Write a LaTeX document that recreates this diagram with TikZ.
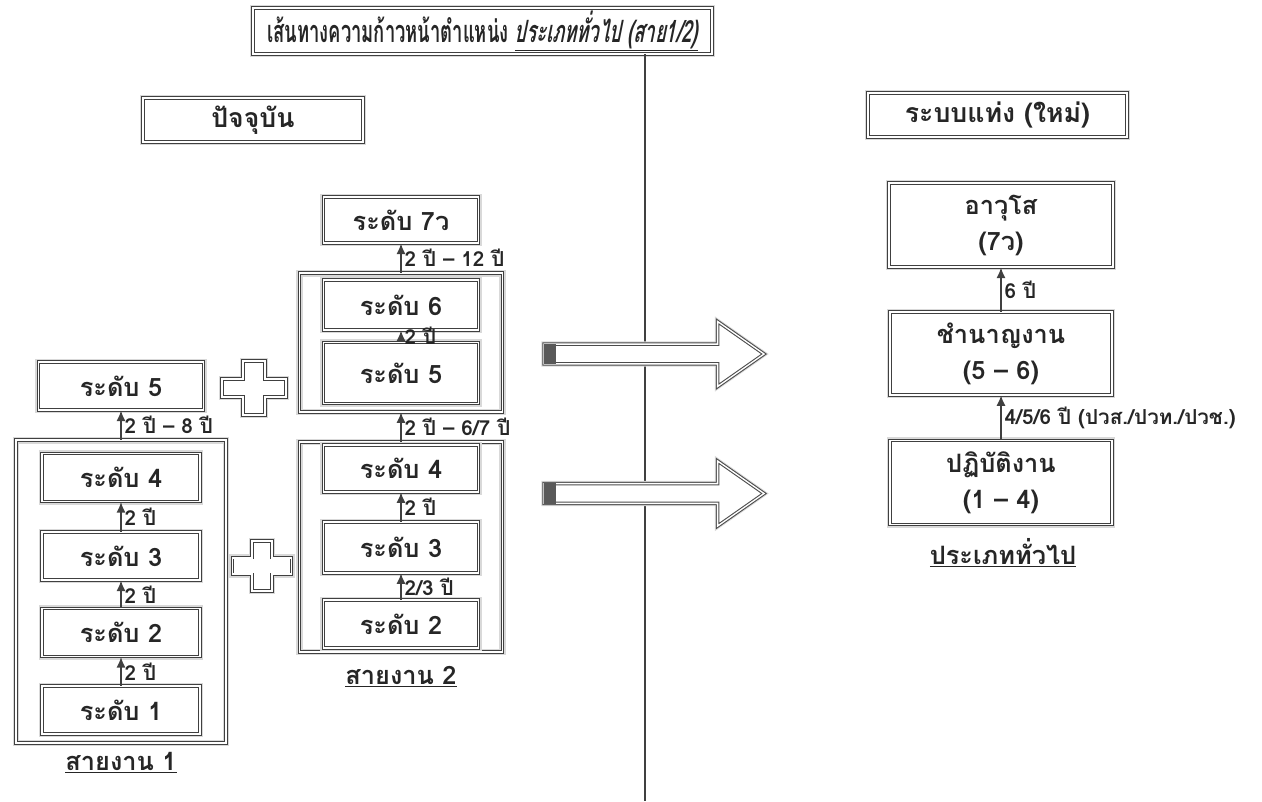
\documentclass[tikz,border=0pt]{standalone}
\usepackage{fontspec}
\newfontfamily\thaifont[Script=Thai]{Loma}
\newfontfamily\thaititle[Script=Thai,FakeStretch=0.6]{Loma}
\newfontfamily\thaislant[Script=Thai,FakeStretch=0.6,FakeSlant=0.2]{Loma}
\usetikzlibrary{shapes.arrows,arrows.meta}

\tikzset{plussign/.pic={
  \draw[black!75, line width=0.7pt, double, double distance=1.2pt, fill=white,
    preaction={draw=black!15, line width=5pt}]
    (-32,-9) -- (-11,-9) -- (-11,-27) -- (11,-27) -- (11,-9) -- (32,-9) -- (32,9)
    -- (11,9) -- (11,27) -- (-11,27) -- (-11,9) -- (-32,9) -- cycle;
}}

\begin{document}
\begin{tikzpicture}[x=0.75pt,y=-0.75pt]
\tikzstyle{lvbox} = [draw=black!75, line width=0.7pt, double, double distance=1.2pt,
fill=white, inner sep=0pt, align=center, text=black!85,
font=\thaifont\bfseries\fontsize{19}{21}\selectfont,
preaction={draw=black!15, line width=5pt}]
\tikzstyle{grpbox} = [lvbox, fill=none]
\tikzstyle{yrs} = [text=black!85, font=\thaifont\bfseries\fontsize{15.5}{17}\selectfont,
inner sep=2pt, right]
\tikzstyle{grptitle} = [text=black!85, font=\thaifont\bfseries\fontsize{19}{21}\selectfont]
\tikzstyle{up} = [-{Latex[length=8pt,width=7pt]}, line width=1.4pt, black!75]
\tikzstyle{bigarrow} = [single arrow, draw=black!70, line width=0.8pt, double,
double distance=1pt, fill=white, text height=0pt, text depth=0pt, text width=0pt,
inner xsep=0pt, inner ysep=7pt, minimum height=165pt,
single arrow head extend=17pt, single arrow tip angle=70,
preaction={draw=black!15, line width=4pt}]
\useasboundingbox (0,0) rectangle (1262,801);

% header
\node[lvbox, minimum width=344pt, minimum height=34.5pt,
font=\thaititle\bfseries\fontsize{23}{26}\selectfont] (title) at (482.5,31)
{เส้นทางความก้าวหน้าตำแหน่ง \underline{\thaislant\bfseries ประเภททั่วไป (สาย1/2)}};
\coordinate (vbot) at (645,801);
\draw[line width=1pt, black!75] (title.south -| vbot) -- (vbot);
\node[lvbox, minimum width=165pt, minimum height=33pt,
font=\thaifont\bfseries\fontsize{20}{22}\selectfont] (now) at (253,120) {ปัจจุบัน};
\node[lvbox, minimum width=194pt, minimum height=33pt,
font=\thaifont\bfseries\fontsize{20}{22}\selectfont] (new) at (997.5,115) {ระบบแท่ง (ใหม่)};

% line 1
\node[grpbox, minimum width=157.5pt, minimum height=227pt] (g1) at (121,591.5) {};
\node[lvbox, minimum width=118.5pt, minimum height=36pt] (l1) at (121,710) {ระดับ 1};
\node[lvbox, minimum width=118.5pt, minimum height=36pt] (l2) at (121,632.5) {ระดับ 2};
\node[lvbox, minimum width=118.5pt, minimum height=36pt] (l3) at (121,556) {ระดับ 3};
\node[lvbox, minimum width=118.5pt, minimum height=36pt] (l4) at (121,477.5) {ระดับ 4};
\node[lvbox, minimum width=124pt, minimum height=36pt] (l5) at (121,386) {ระดับ 5};
\draw[up] (l1) -- node[yrs] {2 ปี} (l2);
\draw[up] (l2) -- node[yrs] {2 ปี} (l3);
\draw[up] (l3) -- node[yrs] {2 ปี} (l4);
\draw[up] (g1) -- node[yrs] {2 ปี – 8 ปี} (l5);
\node[grptitle] (c1) at (121,763) {\underline{สายงาน 1}};

\pic at (254,388) {plussign};
\pic[scale=0.92] at (262,566) {plussign};

% line 2
\node[grpbox, minimum width=152pt, minimum height=157.5pt] (g2) at (401,547) {};
\node[grpbox, minimum width=152pt, minimum height=104pt] (g3) at (401,342.5) {};
\node[lvbox, minimum width=116pt, minimum height=36pt] (m2) at (401,624) {ระดับ 2};
\node[lvbox, minimum width=116pt, minimum height=38pt] (m3) at (401,547.5) {ระดับ 3};
\node[lvbox, minimum width=116pt, minimum height=35pt] (m4) at (401,468.5) {ระดับ 4};
\node[lvbox, minimum width=116pt, minimum height=46pt] (m5) at (401,373) {ระดับ 5};
\node[lvbox, minimum width=116pt, minimum height=37.5pt] (m6) at (401,305) {ระดับ 6};
\node[lvbox, minimum width=116pt, minimum height=34.5pt] (m7) at (401,220) {ระดับ 7ว};
\draw[up] (m2) -- node[yrs] {2/3 ปี} (m3);
\draw[up] (m3) -- node[yrs] {2 ปี} (m4);
\draw[up] (g2) -- node[yrs] {2 ปี – 6/7 ปี} (g3);
\draw[up] (m5) -- node[yrs] {2 ปี} (m6);
\draw[up] (g3) -- node[yrs] {2 ปี – 12 ปี} (m7);
\node[grptitle] (c2) at (401,677) {\underline{สายงาน 2}};

% arrows
\node[bigarrow] (a1) at (647,354) {};
\node[bigarrow] (a2) at (647,493.5) {};
\fill[black!65] (a1.before tail) rectangle ([xshift=9pt]a1.after tail);
\fill[black!65] (a2.before tail) rectangle ([xshift=9pt]a2.after tail);

% new system
\node[lvbox, minimum width=166.5pt, minimum height=63pt] (r1) at (1001,482.5) {ปฏิบัติงาน\\[6pt](1 – 4)};
\node[lvbox, minimum width=166.5pt, minimum height=62pt] (r2) at (1001,353.5) {ชำนาญงาน\\[6pt](5 – 6)};
\node[lvbox, minimum width=168pt, minimum height=63pt] (r3) at (1001,225) {อาวุโส\\[6pt](7ว)};
\draw[up] (r1) -- node[yrs] {4/5/6 ปี (ปวส./ปวท./ปวช.)} (r2);
\draw[up] (r2) -- node[yrs] {6 ปี} (r3);
\node[grptitle] (c3) at (1003,553) {\underline{ประเภททั่วไป}};
\end{tikzpicture}
\end{document}
